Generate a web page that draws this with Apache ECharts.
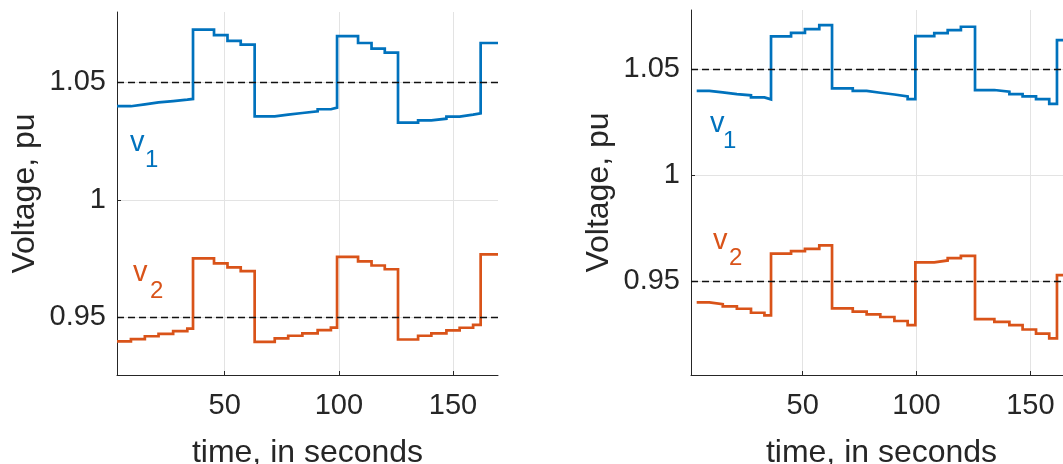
<!DOCTYPE html>
<html><head><meta charset="utf-8">
<script src="https://cdn.jsdelivr.net/npm/echarts@6/dist/echarts.min.js"></script>
<style>html,body{margin:0;padding:0;background:#fff}#c{width:1063px;height:464px}</style>
</head><body><div id="c"></div>
<script>
// ---- data ----
const timeLeft = [2.8, 8.9, 15.0, 21.0, 27.4, 33.6, 36.1, 45.3, 51.2, 57.0, 63.1, 71.9, 77.8, 84.0, 90.7, 96.5, 99.2, 108.4, 114.3, 120.1, 125.9, 134.7, 140.5, 147.1, 152.9, 158.8, 162.1, 169.7];
const v1Left = [1.0399, 1.0407, 1.0415, 1.0421, 1.0427, 1.0430,
                1.0725, 1.0702, 1.0677, 1.0661,
                1.0356, 1.0363, 1.0370, 1.0377, 1.0386, 1.0393,
                1.0697, 1.0668, 1.0644, 1.0627,
                1.0329, 1.0339, 1.0346, 1.0355, 1.0363, 1.0369,
                1.0668, 1.0668];
const v2Left = [0.9398, 0.9408, 0.9420, 0.9430, 0.9442, 0.9452,
                0.9751, 0.9730, 0.9713, 0.9697,
                0.9396, 0.9411, 0.9422, 0.9432, 0.9446, 0.9457,
                0.9758, 0.9739, 0.9721, 0.9705,
                0.9406, 0.9422, 0.9432, 0.9445, 0.9456, 0.9468,
                0.9768, 0.9768];
const timeRight = [3.45, 9.0, 14.9, 21.1, 27.3, 33.2, 36.1, 44.9, 51.0, 57.3, 62.9, 72.0, 78.1, 84.1, 90.3, 96.1, 99.5, 107.8, 113.7, 119.5, 125.7, 134.2, 140.8, 146.6, 152.5, 158.3, 161.7, 170];
const v1Right = [1.0397, 1.0390, 1.0382, 1.0376, 1.0366, 1.0357,
                 1.0654, 1.0671, 1.0689, 1.0708,
                 1.0409, 1.0397, 1.0388, 1.0380, 1.0371, 1.0358,
                 1.0656, 1.0670, 1.0684, 1.0700,
                 1.0401, 1.0393, 1.0382, 1.0371, 1.0358, 1.0336,
                 1.0637, 1.0637];
const v2Right = [0.9398, 0.9390, 0.9379, 0.9368, 0.9349, 0.9337,
                 0.9628, 0.9640, 0.9651, 0.9667,
                 0.9370, 0.9354, 0.9341, 0.9329, 0.9310, 0.9291,
                 0.9587, 0.9596, 0.9607, 0.9618,
                 0.9319, 0.9306, 0.9291, 0.9270, 0.9250, 0.9228,
                 0.9527, 0.9527];
const xTicks = [50, 100, 150];
const yTicks = [0.95, 1, 1.05];
const refLevels = [1.05, 0.95];
const xTitle = 'time, in seconds';
const yTitle = 'Voltage, pu';

// ---- styling ----
const FONT = '"Liberation Sans", Arial, Helvetica, sans-serif';
const TXT = '#262626';
const BLUE = '#0072BD';
const ORANGE = '#D95319';
const GRIDC = '#e3e3e3';

function xAxisCfg(gi, min, max) {
  return {
    type: 'value', gridIndex: gi, min: min, max: max,
    axisLine: {show: true, onZero: false, lineStyle: {color: TXT, width: 1}},
    axisTick: {show: true, inside: true, length: 4, customValues: xTicks, lineStyle: {color: TXT}},
    axisLabel: {show: true, customValues: xTicks, color: TXT, fontSize: 29, fontFamily: FONT, margin: 16},
    splitLine: {show: true, lineStyle: {color: GRIDC, width: 1}},
    name: xTitle, nameLocation: 'middle', nameGap: 62,
    nameTextStyle: {color: TXT, fontSize: 32, fontFamily: FONT}
  };
}
function yAxisCfg(gi, min, max) {
  return {
    type: 'value', gridIndex: gi, min: min, max: max,
    axisLine: {show: true, onZero: false, lineStyle: {color: TXT, width: 1}},
    axisTick: {show: true, inside: true, length: 4, customValues: yTicks, lineStyle: {color: TXT}},
    axisLabel: {show: true, customValues: yTicks, color: TXT, fontSize: 29, fontFamily: FONT, margin: 11,
                formatter: v => String(+v.toFixed(4))},
    splitLine: {show: true, lineStyle: {color: GRIDC, width: 1}},
    name: yTitle, nameLocation: 'middle', nameGap: 76, nameRotate: 90,
    nameTextStyle: {color: TXT, fontSize: 32, fontFamily: FONT}
  };
}
function stairs(name, gi, times, vals, color, withRef) {
  const s = {
    name: name, type: 'line', xAxisIndex: gi, yAxisIndex: gi,
    data: times.map((t, i) => [t, vals[i]]),
    step: 'end', symbol: 'none', showSymbol: false, clip: true,
    lineStyle: {color: color, width: 2.7, join: 'miter', cap: 'butt'}, itemStyle: {color: color},
    animation: false, silent: true, z: 3
  };
  if (withRef) {
    s.markLine = {
      symbol: ['none', 'none'], silent: true, animation: false,
      label: {show: false},
      lineStyle: {color: '#111111', width: 1.3, type: [7, 4]},
      data: refLevels.map(v => ({yAxis: v}))
    };
  }
  return s;
}
function txt(text, x, y, color, size) {
  return {type: 'text', x: x, y: y, silent: true, z: 10,
    style: {text: text, fill: color, fontSize: size, fontFamily: FONT, align: 'left', verticalAlign: 'middle'}};
}

const chart = echarts.init(document.getElementById('c'), null, {renderer: 'canvas'});
chart.setOption({
  backgroundColor: '#ffffff',
  animation: false,
  grid: [
    {left: 117, top: 12, width: 381, height: 363, containLabel: false, outerBoundsMode: 'none'},
    {left: 691, top: 10, width: 381, height: 365, containLabel: false, outerBoundsMode: 'none'}
  ],
  xAxis: [xAxisCfg(0, 2.8, 169.7), xAxisCfg(1, 0.95, 168.3)],
  yAxis: [yAxisCfg(0, 0.9255, 1.080), yAxisCfg(1, 0.9055, 1.0779)],
  series: [
    stairs('v1', 0, timeLeft, v1Left, BLUE, true),
    stairs('v2', 0, timeLeft, v2Left, ORANGE, false),
    stairs('v1', 1, timeRight, v1Right, BLUE, true),
    stairs('v2', 1, timeRight, v2Right, ORANGE, false)
  ],
  graphic: [
    txt('v', 130, 143, BLUE, 29), txt('1', 145, 160, BLUE, 24),
    txt('v', 133, 273, ORANGE, 29), txt('2', 150, 291, ORANGE, 24),
    txt('v', 710, 124, BLUE, 29), txt('1', 723, 141, BLUE, 24),
    txt('v', 713, 241, ORANGE, 29), txt('2', 729, 258, ORANGE, 24)
  ]
});
</script>
</body></html>
